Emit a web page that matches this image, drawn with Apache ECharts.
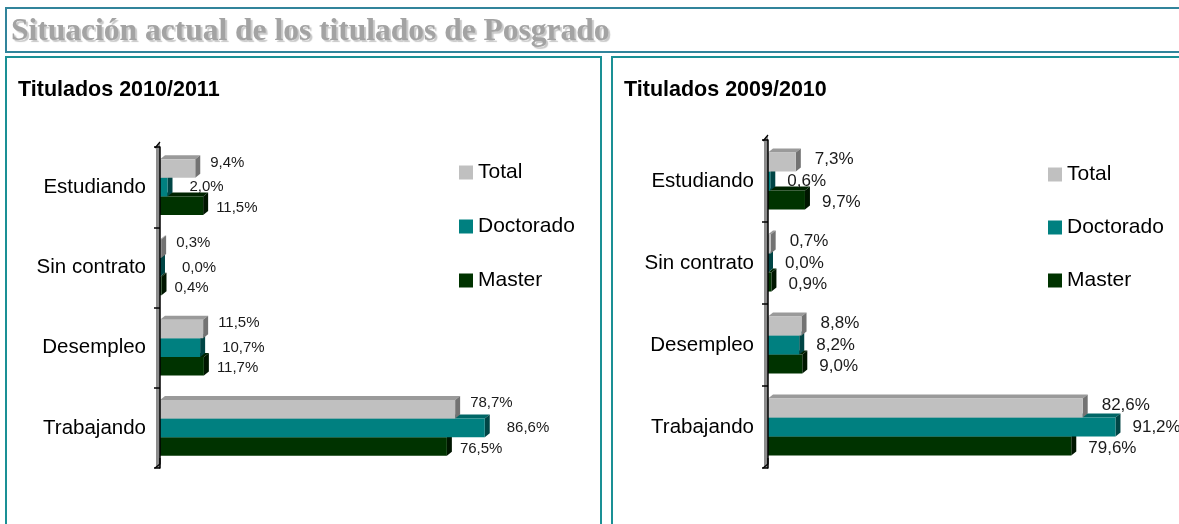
<!DOCTYPE html>
<html>
<head>
<meta charset="utf-8">
<script src="https://cdn.jsdelivr.net/npm/echarts@6/dist/echarts.min.js"></script>
<style>
  html, body { margin: 0; padding: 0; background: #fff; }
  #chart { width: 1179px; height: 524px; }
</style>
</head>
<body>
<div id="chart"></div>
<script>
const categories = ['Estudiando', 'Sin contrato', 'Desempleo', 'Trabajando']
const seriesNames = ['Total', 'Doctorado', 'Master']

// Titulados 2010/2011
const total1011 = [9.4, 0.3, 11.5, 78.7]
const doctorado1011 = [2.0, 0.0, 10.7, 86.6]
const master1011 = [11.5, 0.4, 11.7, 76.5]

// Titulados 2009/2010
const total0910 = [7.3, 0.7, 8.8, 82.6]
const doctorado0910 = [0.6, 0.0, 8.2, 91.2]
const master0910 = [9.7, 0.9, 9.0, 79.6]

const colors = [
  { front: '#c0c0c0', side: '#737373', top: '#9a9a9a' },
  { front: '#008080', side: '#004545', top: '#006666' },
  { front: '#003300', side: '#001600', top: '#002400' }
]

// label offsets per series: [dx, dy]
const labelShift = [
  [[10, -6], [17, 0], [8, 2]],
  [[14, -3], [12, 0], [12, 2]]
]
const labelFont = ['15px "Liberation Sans", Arial, sans-serif', '17px "Liberation Sans", Arial, sans-serif']
const fontFam = '"Liberation Sans", Arial, sans-serif'

function fmt(v) {
  return v.toFixed(1).replace('.', ',') + '%'
}

function bar3d(idx, chartIdx) {
  return function(params, api) {
    const v = api.value(0)
    const c = api.value(1)
    const band = api.size([0, 1])[1]
    const h = band * 0.232
    const base = api.coord([0, c])
    const end = api.coord([v, c])
    const x0 = base[0]
    const x1 = end[0]
    const y0 = base[1] - 1.5 * h + idx * h
    const dx = 5
    const dy = -4
    const col = colors[idx]
    const sh = labelShift[chartIdx][idx]
    return {
      type: 'group',
      children: [
        {
          type: 'polygon',
          shape: { points: [[x0, y0], [x0 + dx, y0 + dy], [x1 + dx, y0 + dy], [x1, y0]] },
          style: { fill: col.top }
        },
        {
          type: 'polygon',
          shape: { points: [[x1, y0], [x1 + dx, y0 + dy], [x1 + dx, y0 + h + dy], [x1, y0 + h]] },
          style: { fill: col.side }
        },
        {
          type: 'rect',
          shape: { x: x0, y: y0, width: Math.max(x1 - x0, 0), height: h },
          style: { fill: col.front }
        },
        {
          type: 'text',
          style: {
            text: fmt(v),
            x: x1 + dx + sh[0],
            y: y0 + h / 2 + sh[1],
            font: labelFont[chartIdx],
            fill: '#1a1a1a',
            verticalAlign: 'middle',
            align: 'left'
          }
        }
      ]
    }
  }
}

// grey back wall drawn beside the category axis, one piece per category band
function wall(params, api) {
  const c = api.value(0)
  const band = api.size([0, 1])[1]
  const p = api.coord([0, c])
  const yTop = p[1] - band / 2
  const children = [
    { type: 'rect', shape: { x: p[0] - 4, y: yTop, width: 4, height: band }, style: { fill: '#8c8c8c' } }
  ]
  if (params.dataIndex === 0) {
    children.push({
      type: 'polygon',
      shape: { points: [[p[0] - 4, yTop], [p[0], yTop - 5], [p[0], yTop]] },
      style: { fill: '#8c8c8c' }
    })
    children.push({
      type: 'polyline',
      shape: { points: [[p[0] - 5, yTop + 1], [p[0], yTop - 5]] },
      style: { stroke: '#000', lineWidth: 1.2, fill: 'none' }
    })
  }
  if (params.dataIndex === categories.length - 1) {
    children.push({
      type: 'polyline',
      shape: { points: [[p[0] - 5, yTop + band], [p[0], yTop + band - 4], [p[0], yTop + band - 10]] },
      style: { stroke: '#000', lineWidth: 1.2, fill: 'none' }
    })
  }
  return { type: 'group', children: children }
}

function makeWall(chartIdx) {
  return {
    type: 'custom',
    xAxisIndex: chartIdx,
    yAxisIndex: chartIdx,
    z: 1,
    silent: true,
    encode: { x: 1, y: 0 },
    data: categories.map((c, i) => [i, 0]),
    renderItem: wall
  }
}

function makeSeries(values, idx, chartIdx) {
  return {
    name: seriesNames[idx],
    type: 'custom',
    xAxisIndex: chartIdx,
    yAxisIndex: chartIdx,
    z: 5 - idx,
    itemStyle: { color: colors[idx].front },
    encode: { x: 0, y: 1 },
    data: values.map((v, i) => [v, i]),
    renderItem: bar3d(idx, chartIdx)
  }
}

function catAxis(gridIndex) {
  return {
    type: 'category',
    gridIndex: gridIndex,
    position: 'left',
    data: categories,
    inverse: true,
    offset: 5,
    z: 6,
    axisLine: { show: true, lineStyle: { color: '#000', width: 1.5 } },
    axisTick: { show: true, length: 6, lineStyle: { color: '#000', width: 1.5 } },
    axisLabel: {
      margin: 9,
      fontSize: 20.5,
      color: '#000',
      fontFamily: fontFam
    }
  }
}

const legendText = { fontSize: 21, color: '#000', fontFamily: fontFam }

const option = {
  animation: false,
  backgroundColor: '#fff',
  title: [
    {
      text: 'Situación actual de los titulados de Posgrado',
      left: 11,
      top: 16,
      padding: 0,
      textStyle: {
        fontFamily: '"Liberation Serif", "Times New Roman", serif',
        fontWeight: 'bold',
        fontSize: 31.5,
        color: '#a3a3a3',
        textShadowColor: 'rgba(0,0,0,0.22)',
        textShadowOffsetX: 2,
        textShadowOffsetY: 2,
        textShadowBlur: 1
      }
    },
    {
      text: 'Titulados 2010/2011',
      left: 18,
      top: 79,
      padding: 0,
      textStyle: { fontSize: 21.5, fontWeight: 'bold', color: '#000', fontFamily: fontFam }
    },
    {
      text: 'Titulados 2009/2010',
      left: 624,
      top: 79,
      padding: 0,
      textStyle: { fontSize: 21.5, fontWeight: 'bold', color: '#000', fontFamily: fontFam }
    }
  ],
  graphic: [
    { type: 'rect', shape: { x: 6, y: 8, width: 1200, height: 44 }, style: { fill: 'none', stroke: '#31849b', lineWidth: 2 } },
    { type: 'rect', shape: { x: 6, y: 57, width: 595, height: 500 }, style: { fill: 'none', stroke: '#1a9095', lineWidth: 2 } },
    { type: 'rect', shape: { x: 612, y: 57, width: 600, height: 500 }, style: { fill: 'none', stroke: '#1a9095', lineWidth: 2 } }
  ],
  legend: [
    {
      data: seriesNames,
      orient: 'vertical',
      left: 459,
      top: 162,
      padding: 0,
      itemWidth: 14,
      itemHeight: 14,
      itemGap: 33,
      icon: 'rect',
      textStyle: legendText
    },
    {
      data: seriesNames,
      orient: 'vertical',
      left: 1048,
      top: 164,
      padding: 0,
      itemWidth: 14,
      itemHeight: 14,
      itemGap: 32,
      icon: 'rect',
      textStyle: legendText
    }
  ],
  grid: [
    { left: 160, top: 147, width: 375, height: 321 },
    { left: 768, top: 140, width: 381, height: 328 }
  ],
  xAxis: [
    { type: 'value', gridIndex: 0, min: 0, max: 100, show: false },
    { type: 'value', gridIndex: 1, min: 0, max: 100, show: false }
  ],
  yAxis: [catAxis(0), catAxis(1)],
  series: [
    makeWall(0),
    makeWall(1),
    makeSeries(total1011, 0, 0),
    makeSeries(doctorado1011, 1, 0),
    makeSeries(master1011, 2, 0),
    makeSeries(total0910, 0, 1),
    makeSeries(doctorado0910, 1, 1),
    makeSeries(master0910, 2, 1)
  ]
}

const chart = echarts.init(document.getElementById('chart'))
chart.setOption(option)
</script>
</body>
</html>
